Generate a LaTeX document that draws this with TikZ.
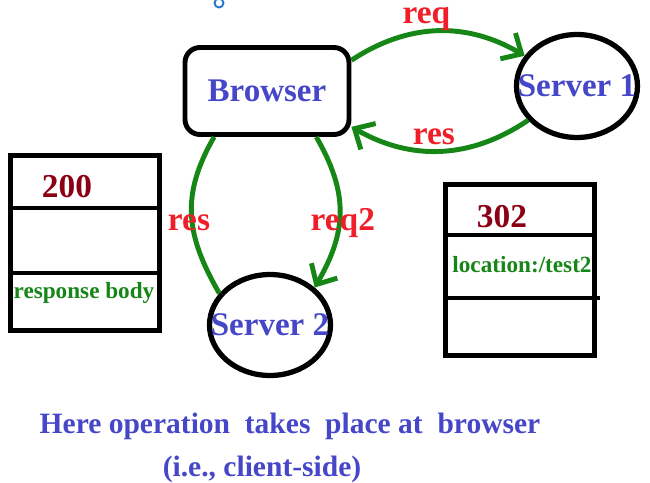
\documentclass[tikz,border=0pt]{standalone}
\usepackage{fontspec}
\setmainfont{Liberation Serif}
\usetikzlibrary{arrows.meta, shapes.geometric}

\definecolor{linkgreen}{RGB}{22,134,22}
\definecolor{labelred}{RGB}{240,30,40}
\definecolor{textblue}{RGB}{70,70,200}
\definecolor{codered}{RGB}{140,0,20}
\definecolor{dotblue}{RGB}{40,120,210}

\begin{document}
\begin{tikzpicture}[x=0.02cm, y=-0.02cm,
	box/.style={line width=2.8pt},
	nodetext/.style={font=\bfseries\fontsize{18.8}{20}\selectfont, text=textblue},
	browserbox/.style={draw, rounded corners=0.3cm, line width=2.8pt, minimum width=3.28cm, minimum height=1.74cm, inner sep=0pt, nodetext},
	serverbox/.style={draw, ellipse, line width=3pt, minimum width=2.42cm, minimum height=2.06cm, inner sep=0pt},
	link/.style={draw=linkgreen, line width=2.8pt},
	linkarrow/.style={-{Straight Barb[length=9pt,width=17pt]}},
	linklabel/.style={font=\bfseries\fontsize{19}{20}\selectfont, text=labelred, inner sep=1pt},
	codetext/.style={font=\bfseries\fontsize{19}{20}\selectfont, text=codered},
	fieldtext/.style={font=\bfseries\fontsize{13.2}{14}\selectfont, text=linkgreen},
	notetext/.style={font=\bfseries\fontsize{16.8}{18}\selectfont, text=textblue}]
				\useasboundingbox (0,0) rectangle (650,483);
				\draw[dotblue, line width=1.1pt] (219,3) circle[radius=0.09cm];

				% Browser and servers
				\node[browserbox] (browser) at (267,91) {Browser};
				\node[serverbox, label={[nodetext]center:Server 1}] (server1) at (577,86) {};
				\node[serverbox, minimum height=2.02cm, label={[nodetext]center:Server 2}] (server2) at (270,325) {};

				% First request and redirect reply
				\draw[link, linkarrow] (browser.20) to[bend left=32] node[midway, xshift=-0.22cm, yshift=0.24cm, linklabel] {req} (server1.150);
				\draw[link, linkarrow] (server1.215) to[bend left=32] node[midway, xshift=-0.14cm, yshift=0.29cm, linklabel] {res} (browser.-23);

				% Second request
				\draw[link] (browser.221) to[out=240, in=120, looseness=1.1] node[midway, xshift=-0.05cm, yshift=-0.15cm, linklabel] {res} (server2.148);
				\draw[link, linkarrow] (browser.-43) to[out=-60, in=60, looseness=1.1] node[midway, xshift=0.06cm, yshift=-0.22cm, linklabel] {req2} (server2.40);

				% Response 200
				\draw[box] (10.5,155.5) rectangle (159.5,330.5);
				\draw[box] (10.5,208) -- (159.5,208);
				\draw[box] (10.5,273) -- (159.5,273);
				\node[codetext] (code200) at (67,187) {200};
				\node[fieldtext] (body200) at (84,293) {response body};

				% Response 302
				\draw[box] (445.5,184.5) rectangle (594.5,355.5);
				\draw[box] (445.5,235) -- (594.5,235);
				\draw[box] (445.5,298) -- (600,298);
				\node[codetext] (code302) at (502,217) {302};
				\node[fieldtext] (location302) at (522,265) {location:/test2};

				% Note
				\node[notetext] (note) at (290,426) {Here operation\ \ takes\ \ place at\ \ browser};
				\node[notetext] (noteside) at (262,469) {(i.e., client-side)};
\end{tikzpicture}
\end{document}
